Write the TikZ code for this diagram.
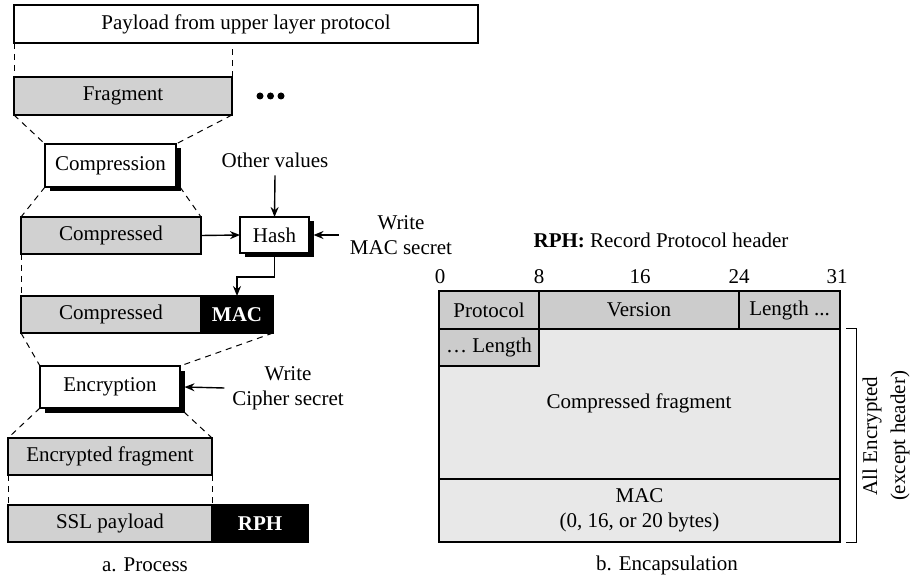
\documentclass[tikz,border=0pt]{standalone}
\usepackage{fontspec}
\setmainfont{Liberation Serif}
\usetikzlibrary{arrows.meta,shadows}
\definecolor{procgray}{gray}{0.82}
\definecolor{hdrgray}{gray}{0.80}
\definecolor{bodygray}{gray}{0.91}
\begin{document}
\begin{tikzpicture}[x=1pt,y=-1pt,
  font=\fontsize{21}{25}\selectfont,
  every node/.style={inner sep=0pt, outer sep=0pt},
  box/.style={draw, line width=1.2pt, anchor=north west},
  gbox/.style={box, fill=procgray},
  hbox/.style={box, fill=hdrgray},
  bbox/.style={box, fill=black, text=white, font=\fontsize{21}{25}\selectfont\bfseries},
  sbox/.style={box, fill=white, drop shadow={shadow xshift=4.5pt, shadow yshift=-4.5pt, fill=black, opacity=1}},
  dline/.style={dash pattern=on 6pt off 5pt, line width=1pt},
  arr/.style={-{Stealth[length=10pt,width=8pt]}, line width=1.4pt},
]
\useasboundingbox (0,0) rectangle (913,577);

% ---------- a. Process ----------
\node[box, minimum width=464pt, minimum height=38pt] (payload) at (14,5) {Payload from upper layer protocol};
\node[gbox, minimum width=218pt, minimum height=38pt] (frag) at (14,77) {Fragment};
\fill (260,96) circle (3.5pt) (270.5,96) circle (3.5pt) (281,96) circle (3.5pt);

\node[sbox, minimum width=131pt, minimum height=43pt] (comp) at (45,144) {Compression};
\node[gbox, minimum width=180pt, minimum height=37pt] (c1) at (21,217) {Compressed};
\node[sbox, minimum width=69pt, minimum height=36pt] (hash) at (240,217) {Hash};
\node (other) at (275,160) {Other values};
\node[align=center] (wmac) at (401,235) {Write\\MAC secret};

\node[gbox, minimum width=180pt, minimum height=37pt] (c2) at (21,296) {Compressed};
\node[bbox, minimum width=72pt, minimum height=37pt] (mac) at (201,296) {MAC};

\node[sbox, minimum width=140pt, minimum height=42pt] (enc) at (40,366) {Encryption};
\node[align=center] (wcip) at (288,388) {Write\\Cipher secret};

\node[gbox, minimum width=204pt, minimum height=37pt] (ef) at (8,438) {Encrypted fragment};
\node[gbox, minimum width=204pt, minimum height=37pt] (ssl) at (8,505) {SSL payload};
\node[bbox, minimum width=96pt, minimum height=37pt] (rph) at (212,505) {RPH};
\node (capa) at (145,565) {a. Process};

% dashed guides
\draw[dline] (payload.south west) -- (frag.north west);
\draw[dline] (frag.north east) -- (frag.north east |- payload.south);
\draw[dline] (frag.south west) -- (comp.north west);
\draw[dline] (frag.south east) -- (comp.north east);
\draw[dline] (comp.south west) -- (c1.north west);
\draw[dline] ([xshift=4pt]comp.south east) -- (c1.north east);
\draw[dline] (c1.south west) -- (c2.north west);
\draw[dline] (c2.south west) -- (enc.north west);
\draw[dline] (mac.south east) -- (enc.north east);
\draw[dline] (enc.south west) -- (ef.north west);
\draw[dline] ([xshift=4pt,yshift=-4pt]enc.south east) -- (ef.north east);
\draw[dline] (ef.south west) -- (ssl.north west);
\draw[dline] (ef.south east) -- (ssl.north east);

% arrows
\draw[arr] (c1.east) -- (hash.west);
\draw[arr] ([yshift=-8pt]other.south) -- (hash.north);
\draw[arr] ([xshift=-11pt]wmac.west) -- ([xshift=4.5pt]hash.east);
\draw[arr] (hash.south) -- ++(0,24) -| (mac.north);
\draw[arr] ([xshift=-8pt]wcip.west) -- ([xshift=4.5pt]enc.east);

% ---------- b. Encapsulation ----------
\node (rphlbl) at (661,240) {\textbf{RPH:} Record Protocol header};
\node (b0) at (440,277) {0};
\node (b8) at (539,277) {8};
\node (b16) at (640,277) {16};
\node (b24) at (739,277) {24};
\node (b31) at (837,277) {31};

\node[hbox, minimum width=100pt, minimum height=38pt] (proto) at (439,291) {Protocol};
\node[hbox, minimum width=200pt, minimum height=38pt] (ver) at (539,291) {Version};
\node[hbox, minimum width=101pt, minimum height=38pt] (len1) at (739,291) {Length ...};
\node[box, fill=bodygray, minimum width=401pt, minimum height=150pt] (body) at (439,329) {};
\node[hbox, minimum width=100pt, minimum height=37pt] (len2) at (439,329) {… Length};
\node (cf) at (639,403) {Compressed fragment};
\node[box, fill=bodygray, minimum width=401pt, minimum height=63pt, align=center] (macb) at (439,479) {MAC\\(0, 16, or 20 bytes)};

\draw[line width=1pt] ([xshift=6pt]body.north east) -- ([xshift=16pt]body.north east)
  -- ([xshift=16pt]macb.south east) -- ([xshift=6pt]macb.south east);
\node[rotate=90, align=center, font=\fontsize{21}{28}\selectfont] (allenc) at (886,436) {All Encrypted\\(except header)};

\node (capb) at (667,565) {b. Encapsulation};
\end{tikzpicture}
\end{document}
